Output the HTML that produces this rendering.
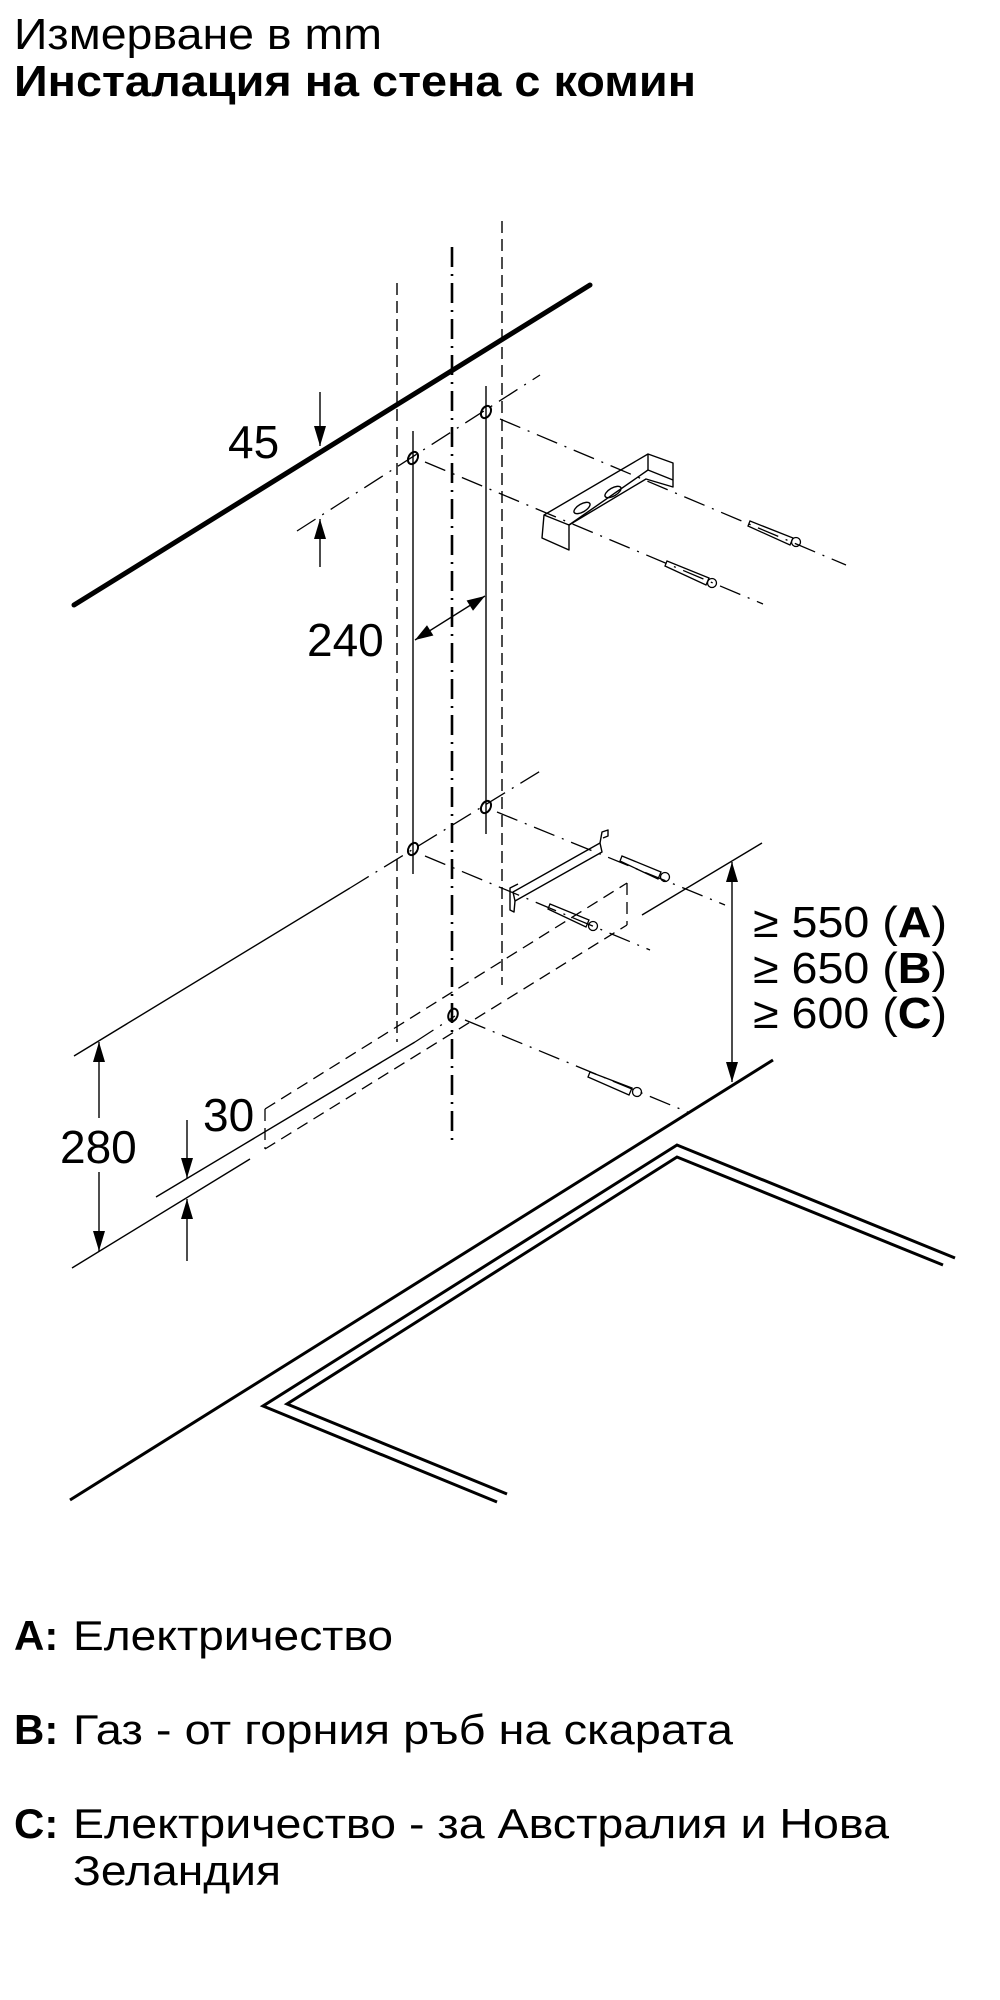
<!DOCTYPE html>
<html><head><meta charset="utf-8"><style>
html,body{margin:0;padding:0;background:#fff;}
svg{display:block;}
text{font-family:"Liberation Sans",Arial,sans-serif;fill:#000;}
</style></head><body>
<svg width="1000" height="2000" viewBox="0 0 1000 2000" xmlns="http://www.w3.org/2000/svg">
<text x="14" y="49" font-size="44" textLength="368" lengthAdjust="spacingAndGlyphs">Измерване в mm</text>
<text x="14" y="96" font-size="44" font-weight="bold" textLength="682" lengthAdjust="spacingAndGlyphs">Инсталация на стена с комин</text>

<g fill="none" stroke="#000">
<line x1="74" y1="605" x2="590" y2="285" stroke-width="5" stroke-linecap="round"/>
<line x1="452" y1="247" x2="452" y2="1140" stroke-width="2.6" stroke-dasharray="20 7 2 7"/>
<line x1="397" y1="283" x2="397" y2="1042" stroke-width="1.4" stroke-dasharray="12 6"/>
<line x1="502" y1="221" x2="502" y2="985" stroke-width="1.4" stroke-dasharray="12 6"/>
<line x1="413" y1="431" x2="413" y2="874" stroke-width="1.4"/>
<line x1="486" y1="386" x2="486" y2="834" stroke-width="1.4"/>

<g stroke-width="1.3" stroke-dasharray="22 8 2 8">
<line x1="297" y1="531" x2="540" y2="375"/>
<line x1="500" y1="419" x2="846" y2="565"/>
<line x1="425" y1="462" x2="763" y2="604"/>
<line x1="350" y1="888" x2="542" y2="770"/>
<line x1="497" y1="812" x2="725" y2="905"/>
<line x1="425" y1="856" x2="650" y2="950"/>
<line x1="415" y1="1042" x2="455" y2="1016"/>
<line x1="465" y1="1020" x2="690" y2="1113"/>
</g>
<g stroke-width="1.4">
<line x1="74" y1="1056" x2="350" y2="888"/>
<line x1="156" y1="1197" x2="415" y2="1042"/>
<line x1="72" y1="1268" x2="250" y2="1159"/>
<line x1="642" y1="915" x2="762" y2="843"/>
</g>
<g stroke-width="1.3" stroke-dasharray="12 7">
<line x1="265" y1="1109" x2="627" y2="883"/>
<line x1="265" y1="1149" x2="627" y2="925"/>
<line x1="265" y1="1109" x2="265" y2="1149"/>
<line x1="627" y1="883" x2="627" y2="925"/>
</g>
<g stroke-width="2">
<ellipse cx="486" cy="412" rx="4.5" ry="6.5" transform="rotate(30 486 412)"/>
<ellipse cx="413" cy="458" rx="4.5" ry="6.5" transform="rotate(30 413 458)"/>
<ellipse cx="486" cy="807" rx="4.5" ry="6.5" transform="rotate(30 486 807)"/>
<ellipse cx="413" cy="849" rx="4.5" ry="6.5" transform="rotate(30 413 849)"/>
<ellipse cx="453" cy="1015" rx="4.5" ry="6.5" transform="rotate(20 453 1015)"/>
</g>
<g stroke-width="1.4" stroke-linejoin="round">
<polygon points="544,515 648,454 673,463 673,487 646,479 569,525 569,550 542,538"/>
<line x1="648" y1="454" x2="648" y2="470"/>
<line x1="544" y1="515" x2="569" y2="525"/>
<line x1="569" y1="525" x2="648" y2="470"/>
<line x1="648" y1="470" x2="673" y2="480"/>
<ellipse cx="582" cy="508" rx="9" ry="4" transform="rotate(-30 582 508)"/>
<ellipse cx="613" cy="492" rx="9" ry="4" transform="rotate(-30 613 492)"/>
</g>
<g stroke-width="1.4" stroke-linejoin="round">
<polygon points="513,892 600,843 602,852 515,901"/>
<polyline points="515,901 514,912 510,910 510,888 518,884"/>
<polyline points="600,843 602,832 608,830 608,836 603,838"/>
</g>
<g stroke-width="1.3">
<polygon points="750,521 793,538 790,545 748,526"/>
<circle cx="796" cy="542" r="4.5"/>
<polygon points="667,561 709,578 706,585 665,566"/>
<circle cx="712" cy="583" r="4.5"/>
<polygon points="622,856 661,872 658,879 620,861"/>
<circle cx="665" cy="877" r="4.5"/>
<polygon points="550,904 589,920 586,927 548,909"/>
<circle cx="593" cy="926" r="4.5"/>
<polygon points="590,1072 632,1088 629,1095 588,1077"/>
<circle cx="637" cy="1092" r="4.5"/>
</g>
<line x1="70" y1="1500" x2="773" y2="1060" stroke-width="3"/>
<polyline points="955,1258 677,1145 263,1406 497,1502" stroke-width="3"/>
<polyline points="943,1265 677,1157 287,1404 507,1494" stroke-width="3"/>

<g stroke-width="1.4">
<line x1="320" y1="392" x2="320" y2="446"/>
<line x1="320" y1="519" x2="320" y2="567"/>
<line x1="415" y1="640" x2="485" y2="596"/>
<line x1="99" y1="1042" x2="99" y2="1118"/>
<line x1="99" y1="1172" x2="99" y2="1251"/>
<line x1="187" y1="1120" x2="187" y2="1178"/>
<line x1="187" y1="1199" x2="187" y2="1261"/>
<line x1="732" y1="862" x2="732" y2="1082"/>
</g>
</g>
<g fill="#000">
<polygon points="320,446 314,426 326,426"/>
<polygon points="320,519 314,539 326,539"/>
<polygon points="485,596 473,610.7 466.6,600.5"/>
<polygon points="415,640 433.4,635.5 427,625.3"/>
<polygon points="99,1042 93,1062 105,1062"/>
<polygon points="99,1251 93,1231 105,1231"/>
<polygon points="187,1178 181,1158 193,1158"/>
<polygon points="187,1199 181,1219 193,1219"/>
<polygon points="732,862 726,882 738,882"/>
<polygon points="732,1082 726,1062 738,1062"/>
</g>

<text x="228" y="458" font-size="46">45</text>
<text x="307" y="656" font-size="46">240</text>
<text x="60" y="1163" font-size="46">280</text>
<text x="203" y="1131" font-size="46">30</text>
<text x="753" y="937" font-size="44" textLength="194" lengthAdjust="spacingAndGlyphs">≥ 550 (<tspan font-weight="bold">A</tspan>)</text>
<text x="753" y="983" font-size="44" textLength="194" lengthAdjust="spacingAndGlyphs">≥ 650 (<tspan font-weight="bold">B</tspan>)</text>
<text x="753" y="1028" font-size="44" textLength="194" lengthAdjust="spacingAndGlyphs">≥ 600 (<tspan font-weight="bold">C</tspan>)</text>

<text x="14" y="1650" font-size="42" font-weight="bold">A:</text>
<text x="73" y="1650" font-size="42" textLength="320" lengthAdjust="spacingAndGlyphs">Електричество</text>
<text x="14" y="1744" font-size="42" font-weight="bold">B:</text>
<text x="73" y="1744" font-size="42" textLength="660" lengthAdjust="spacingAndGlyphs">Газ - от горния ръб на скарата</text>
<text x="14" y="1838" font-size="42" font-weight="bold">C:</text>
<text x="73" y="1838" font-size="42" textLength="816" lengthAdjust="spacingAndGlyphs">Електричество - за Австралия и Нова</text>
<text x="73" y="1885" font-size="42" textLength="208" lengthAdjust="spacingAndGlyphs">Зеландия</text>
</svg>
</body></html>
